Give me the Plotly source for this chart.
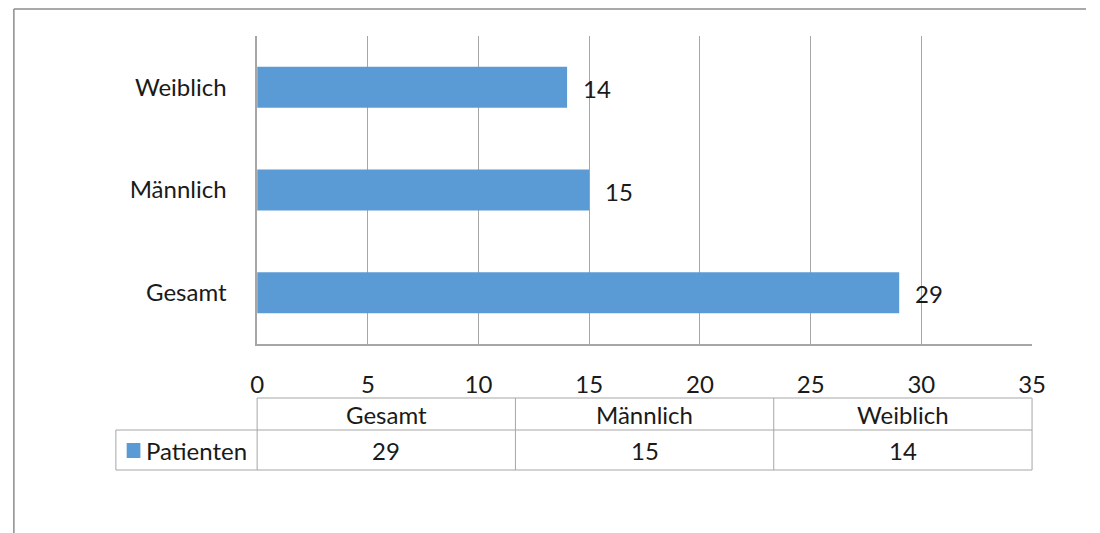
import plotly.graph_objects as go

# Patient counts by group
categories = ["Gesamt", "Männlich", "Weiblich"]
patients = [29, 15, 14]
series_name = "Patienten"
x_ticks = [0, 5, 10, 15, 20, 25, 30, 35]

W, H = 1100, 533
BAR = "#5B9BD5"
LINE = "#A6A6A6"
TXT = "#1A1A1A"
FONT = "Lato, 'Open Sans', sans-serif"
FS = 24

def px(x):
    return x / W

def py(y):
    return 1 - y / H

# plot area in pixels
PL, PR, PT, PB = 255, 1045, 36, 344

fig = go.Figure()
fig.add_trace(go.Bar(
    y=categories, x=patients, orientation="h",
    marker=dict(color=BAR, line=dict(width=0)),
    width=0.4, name=series_name, showlegend=False,
    hoverinfo="x+y",
))

# data labels to the right of each bar
annotations = []
for c, v in zip(categories, patients):
    annotations.append(dict(
        x=v, y=c, xref="x", yref="y", text=str(v), showarrow=False,
        xanchor="left", yanchor="middle", xshift=14, yshift=-1,
        font=dict(family=FONT, size=FS, color=TXT),
    ))

shapes = []
def hline(x0, x1, y, color=LINE, w=1):
    shapes.append(dict(type="line", xref="paper", yref="paper",
                       x0=px(x0), x1=px(x1), y0=py(y), y1=py(y),
                       line=dict(color=color, width=w)))

def vline(x, y0, y1, color=LINE, w=1):
    shapes.append(dict(type="line", xref="paper", yref="paper",
                       x0=px(x), x1=px(x), y0=py(y0), y1=py(y1),
                       line=dict(color=color, width=w)))

# chart frame (top and left edges)
hline(7, W, 9, "#8C8C8C", 1.5)
vline(7, 9, H, "#8C8C8C", 1.5)

# data table below the axis
T_TOP, T_MID, T_BOT = 398, 430, 470
LEG_L = 111
col_w = (PR - PL) / len(categories)
hline(PL, PR, T_TOP)
hline(LEG_L, PR, T_MID)
hline(LEG_L, PR, T_BOT)
vline(LEG_L, T_MID, T_BOT)
for i in range(len(categories) + 1):
    vline(PL + i * col_w, T_TOP, T_BOT)

for i, (c, v) in enumerate(zip(categories, patients)):
    cx = PL + (i + 0.5) * col_w
    annotations.append(dict(x=px(cx), y=py((T_TOP + T_MID) / 2), xref="paper", yref="paper",
                            text=c, showarrow=False, xanchor="center", yanchor="middle",
                            font=dict(family=FONT, size=FS, color=TXT)))
    annotations.append(dict(x=px(cx), y=py((T_MID + T_BOT) / 2), xref="paper", yref="paper",
                            text=str(v), showarrow=False, xanchor="center", yanchor="middle",
                            font=dict(family=FONT, size=FS, color=TXT)))

# legend key inside the table
shapes.append(dict(type="rect", xref="paper", yref="paper",
                   x0=px(122), x1=px(136), y0=py(458), y1=py(443),
                   fillcolor=BAR, line=dict(width=0)))
annotations.append(dict(x=px(140), y=py((T_MID + T_BOT) / 2), xref="paper", yref="paper",
                        text=series_name, showarrow=False, xanchor="left", yanchor="middle",
                        font=dict(family=FONT, size=FS, color=TXT)))

fig.update_layout(
    width=W, height=H, autosize=False,
    margin=dict(l=0, r=0, t=0, b=0),
    paper_bgcolor="white", plot_bgcolor="white",
    xaxis=dict(
        domain=[px(PL), px(PR)], range=[0, 35],
        tickvals=x_ticks, ticktext=[str(t) for t in x_ticks],
        showgrid=True, gridcolor=LINE, gridwidth=1,
        zeroline=False, showline=True, linecolor=LINE, linewidth=1.5,
        ticks="", ticklabelstandoff=18,
        tickfont=dict(family=FONT, size=FS, color=TXT),
        fixedrange=True,
    ),
    yaxis=dict(
        domain=[py(PB), py(PT)],
        categoryorder="array", categoryarray=categories,
        range=[-0.5, 2.5],
        showgrid=False, zeroline=False,
        showline=True, linecolor=LINE, linewidth=1.5,
        ticks="", ticklabelstandoff=24,
        tickfont=dict(family=FONT, size=FS, color=TXT),
        fixedrange=True,
    ),
    shapes=shapes,
    annotations=annotations,
    showlegend=False,
)

fig.write_html(
    "out.html",
    config={"responsive": False, "displayModeBar": False},
)
